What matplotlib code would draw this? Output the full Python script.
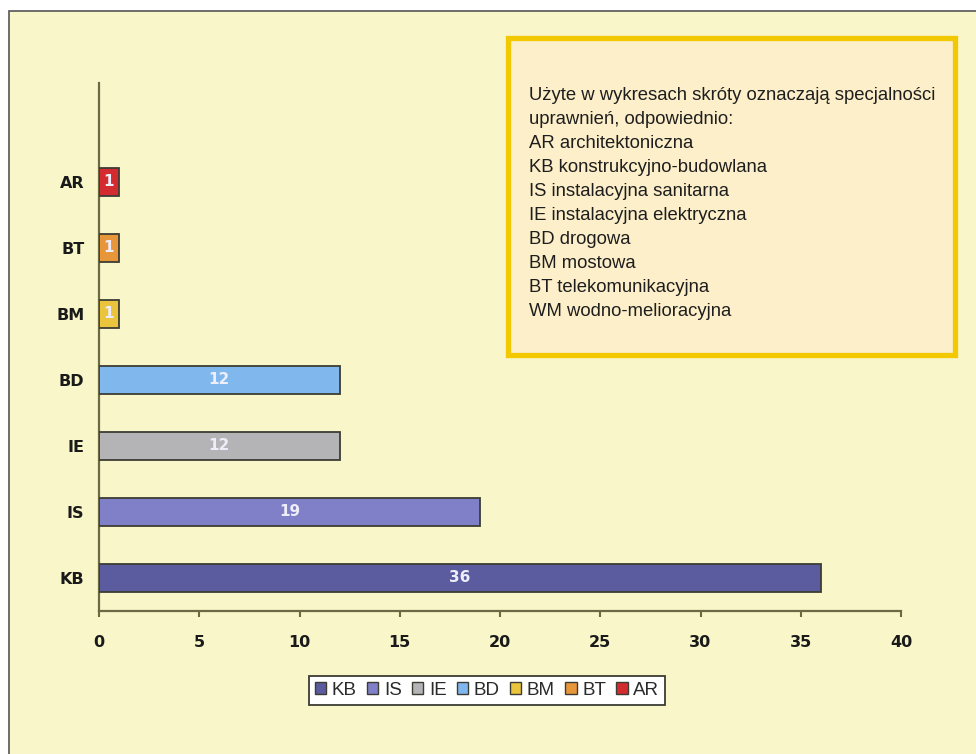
import matplotlib
matplotlib.use("Agg")
import matplotlib.pyplot as plt
from matplotlib.patches import Rectangle, Patch

plt.rcParams['font.family'] = ['Liberation Sans', 'DejaVu Sans']

# Categories from bottom to top, with their counts and fill colours
categories = ["KB", "IS", "IE", "BD", "BM", "BT", "AR"]
values = [36, 19, 12, 12, 1, 1, 1]
colors = ["#5b5ba0", "#8080c8", "#b4b4b6", "#80b8ee", "#e9c43c", "#e8963a", "#d22c30"]

x_ticks = [0, 5, 10, 15, 20, 25, 30, 35, 40]

note_lines = [
    "Użyte w wykresach skróty oznaczają specjalności",
    "uprawnień, odpowiednio:",
    "AR architektoniczna",
    "KB konstrukcyjno-budowlana",
    "IS instalacyjna sanitarna",
    "IE instalacyjna elektryczna",
    "BD drogowa",
    "BM mostowa",
    "BT telekomunikacyjna",
    "WM wodno-melioracyjna",
]

W, H = 976, 754
fig = plt.figure(figsize=(W / 100, H / 100), dpi=100, facecolor="white")

# Pale yellow panel with a thin dark frame
fig.patches.append(Rectangle((9 / W, -0.02), 1.05, 1 - 11 / H + 0.02,
                             transform=fig.transFigure, facecolor="#f9f6c9",
                             edgecolor="#555555", linewidth=1.2, zorder=-2))

ax = fig.add_axes([99 / W, 1 - 611 / H, (901 - 99) / W, (611 - 83) / H])
ax.set_facecolor("none")
ax.set_zorder(1)

heavy = dict(family="DejaVu Sans", fontweight="bold")

ypos = list(range(len(categories)))
bars = ax.barh(ypos, values, height=0.41, color=colors,
               edgecolor="#3c3c34", linewidth=1.3, zorder=3)

for y, v in zip(ypos, values):
    ax.text(v / 2, y, str(v), ha="center", va="center", color="#eeeefa",
            fontsize=11, zorder=4, **heavy)

ax.set_xlim(0, 40)
ax.set_ylim(-0.5, 7.5)
ax.set_xticks(x_ticks)
ax.set_xticklabels([str(t) for t in x_ticks], fontsize=11.5, color="#1a1a1a", **heavy)
ax.set_yticks(ypos)
ax.set_yticklabels(categories, fontsize=11.5, color="#1a1a1a", **heavy)

ax.tick_params(axis="x", direction="out", length=4, width=1.5,
               color="#6b6a44", pad=13)
ax.tick_params(axis="y", length=0, pad=10.5)

for side in ("top", "right"):
    ax.spines[side].set_visible(False)
for side in ("left", "bottom"):
    ax.spines[side].set_color("#6b6a44")
    ax.spines[side].set_linewidth(1.6)

# Legend beneath the axis
handles = [Patch(facecolor=c, edgecolor="#3c3c34", linewidth=1.0) for c in colors]
leg = fig.legend(handles, categories, loc="center", bbox_to_anchor=(487 / W, 1 - 690.5 / H),
                 ncol=len(categories), fontsize=13.5, frameon=True, fancybox=False,
                 edgecolor="#3c3c34", facecolor="white", framealpha=1,
                 handlelength=0.6, handleheight=0.6, handletextpad=0.3,
                 columnspacing=0.55, borderpad=0.3)
leg.get_frame().set_linewidth(1.3)
for t in leg.get_texts():
    t.set_color("#2a2a2a")

# Explanatory note box in the upper right
fig.patches.append(Rectangle((508 / W, 1 - 355 / H), (955 - 508) / W, (355 - 38) / H,
                             transform=fig.transFigure, facecolor="#fcefc9",
                             edgecolor="#f2c900", linewidth=3.8, zorder=1))
for i, line in enumerate(note_lines):
    fig.text(529 / W, 1 - (87 + 24 * i) / H, line, ha="left", va="top",
             fontsize=13.3, color="#1e1e1e", zorder=2)

fig.savefig("out.png", dpi=100, facecolor="white")
